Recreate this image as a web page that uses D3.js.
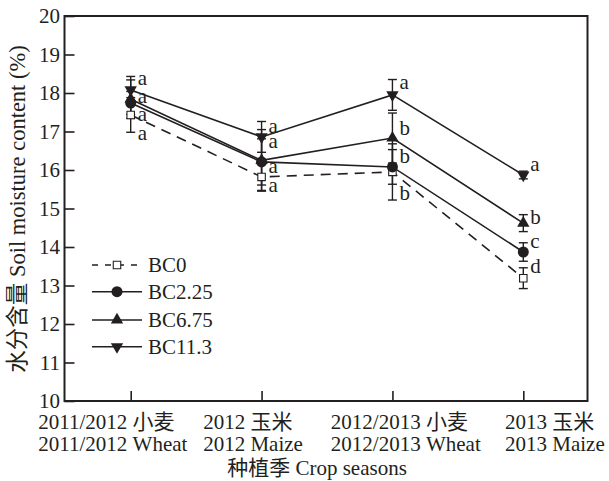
<!DOCTYPE html>
<html><head><meta charset="utf-8">
<script src="https://cdn.jsdelivr.net/npm/d3@7"></script>
<style>
body{margin:0;background:#fff}
text{font-family:"Liberation Serif","Times New Roman","DejaVu Serif",serif,"Noto Sans CJK SC";fill:#231f20}
</style>
</head><body><svg id="c" width="609" height="481"></svg>
<script>
// ---- data ----
const seasons = ["2011/2012 Wheat","2012 Maize","2012/2013 Wheat","2013 Maize"];
const seasonsCN = ["2011/2012 小麦","2012 玉米","2012/2013 小麦","2013 玉米"];
const yTicks = [10,11,12,13,14,15,16,17,18,19,20];
const seriesNames = ["BC0","BC2.25","BC6.75","BC11.3"];

const bc0     = [17.43,15.82,15.95,13.19];
const bc0Err  = [0.45,0.35,0.73,0.27];
const bc225   = [17.74,16.21,16.08,13.87];
const bc225Err= [0.30,0.60,0.45,0.24];
const bc675   = [17.84,16.25,16.83,14.62];
const bc675Err= [0.50,0.80,0.65,0.22];
const bc113   = [18.08,16.86,17.95,15.87];
const bc113Err= [0.35,0.40,0.40,0.10];

const bc0Letters   = ["a","a","b","d"];
const bc225Letters = ["a","a","b","c"];
const bc675Letters = ["a","a","b","b"];
const bc113Letters = ["a","a","a","a"];
// letter anchor heights (soil moisture units)
const bc0LetterAt   = [16.91,15.56,15.35,13.45];
const bc225LetterAt = [17.38,16.03,16.29,14.10];
const bc675LetterAt = [17.87,16.68,17.04,14.73];
const bc113LetterAt = [18.34,17.09,18.23,16.10];

// ---- layout ----
const svg = d3.select("#c");
const L=64.5, R=587.5, T=16, B=401;
const x = d3.scalePoint().domain(seasons).range([130.7,523.3]).padding(0);
const y = d3.scaleLinear().domain([10,20]).range([B,T]);
const ink = "#231f20";
const fs = 21;
const serifStack = '"Liberation Serif","Times New Roman","DejaVu Serif",serif';

const series = [
  {name:seriesNames[0], v:bc0,   e:bc0Err,   lt:bc0Letters,   la:bc0LetterAt,   sym:"square", dash:"10,7"},
  {name:seriesNames[1], v:bc225, e:bc225Err, lt:bc225Letters, la:bc225LetterAt, sym:"circle", dash:null},
  {name:seriesNames[2], v:bc675, e:bc675Err, lt:bc675Letters, la:bc675LetterAt, sym:"up",     dash:null},
  {name:seriesNames[3], v:bc113, e:bc113Err, lt:bc113Letters, la:bc113LetterAt, sym:"down",   dash:null}
];

function marker(g, s, cx, cy){
  if(s.sym==="square"){
    g.append("path").attr("d", d3.symbol(d3.symbolSquare, 56)())
      .attr("transform",`translate(${cx},${cy})`)
      .attr("fill","#fff").attr("stroke",ink).attr("stroke-width",1.1);
  } else if(s.sym==="circle"){
    g.append("path").attr("d", d3.symbol(d3.symbolCircle, 95)())
      .attr("transform",`translate(${cx},${cy})`).attr("fill",ink);
  } else {
    const rot = s.sym==="down"?180:0;
    g.append("path").attr("d", d3.symbol(d3.symbolTriangle, 66)())
      .attr("transform",`translate(${cx},${cy}) rotate(${rot})`).attr("fill",ink);
  }
}

// axes
const yAxis = d3.axisLeft(y).tickValues(yTicks).tickSize(-10).tickSizeOuter(0).tickPadding(4.5);
const gy = svg.append("g").attr("transform",`translate(${L},0)`).call(yAxis);
gy.attr("font-family",null);
gy.selectAll("text").attr("font-size",fs).style("font-family",serifStack).attr("fill",ink);
gy.selectAll("line").attr("stroke",ink).attr("stroke-width",1.6);
gy.select(".domain").remove();

const xAxis = d3.axisBottom(x).tickSize(-10).tickSizeOuter(0).tickFormat("");
const gx = svg.append("g").attr("transform",`translate(0,${B})`).call(xAxis);
gx.selectAll("line").attr("stroke",ink).attr("stroke-width",1.6);
gx.select(".domain").remove();

// custom two-line tick labels (left aligned blocks)
const labelShift = [-92.4,-58.4,-61.6,-18.3];
seasons.forEach((s,i)=>{
  const t = svg.append("text").attr("font-size",fs).attr("text-anchor","start");
  t.append("tspan").attr("x", x(s)+labelShift[i]).attr("y",429).text(seasonsCN[i]);
  t.append("tspan").attr("x", x(s)+labelShift[i]).attr("y",450.5).text(s);
});

// frame
svg.append("rect").attr("x",L).attr("y",T).attr("width",R-L).attr("height",B-T)
  .attr("fill","none").attr("stroke",ink).attr("stroke-width",2);

// axis titles
svg.append("text").attr("x",317).attr("y",475).attr("text-anchor","middle")
  .attr("font-size",fs).text("种植季 Crop seasons");
svg.append("text").attr("transform","translate(25,209) rotate(-90)").attr("text-anchor","middle")
  .attr("font-size",22.5).text("水分含量 Soil moisture content (%)");

// lines
const line = d3.line().x((d,i)=>x(seasons[i])).y(d=>y(d));
series.forEach(s=>{
  svg.append("path").datum(s.v).attr("d",line).attr("fill","none")
    .attr("stroke",ink).attr("stroke-width",1.6)
    .attr("stroke-dasharray",s.dash);
});

// error bars
const cap = 4.5;
series.forEach(s=>{
  const g = svg.append("g").attr("stroke",ink).attr("stroke-width",1.4);
  s.v.forEach((v,i)=>{
    const cx = x(seasons[i]);
    g.append("line").attr("x1",cx).attr("x2",cx).attr("y1",y(v-s.e[i])).attr("y2",y(v+s.e[i]));
    g.append("line").attr("x1",cx-cap).attr("x2",cx+cap).attr("y1",y(v+s.e[i])).attr("y2",y(v+s.e[i]));
    g.append("line").attr("x1",cx-cap).attr("x2",cx+cap).attr("y1",y(v-s.e[i])).attr("y2",y(v-s.e[i]));
  });
});

// markers
series.forEach(s=>{
  const g = svg.append("g");
  s.v.forEach((v,i)=>marker(g,s,x(seasons[i]),y(v)));
});

// significance letters
series.forEach(s=>{
  s.lt.forEach((l,i)=>{
    svg.append("text").attr("x",x(seasons[i])+7).attr("y",y(s.la[i])).attr("dy","0.22em")
      .attr("font-size",fs).text(l);
  });
});

// legend
const legY = [265,291.7,320,346.7];
series.forEach((s,k)=>{
  const g = svg.append("g");
  g.append("line").attr("x1",92).attr("x2",142).attr("y1",legY[k]).attr("y2",legY[k])
    .attr("stroke",ink).attr("stroke-width",1.6)
    .attr("stroke-dasharray", s.dash ? "6,7" : null);
  marker(g,s,117,legY[k]);
  g.append("text").attr("x",148).attr("y",legY[k]).attr("dy","0.33em").attr("font-size",fs).text(s.name);
});
</script>
</body></html>
